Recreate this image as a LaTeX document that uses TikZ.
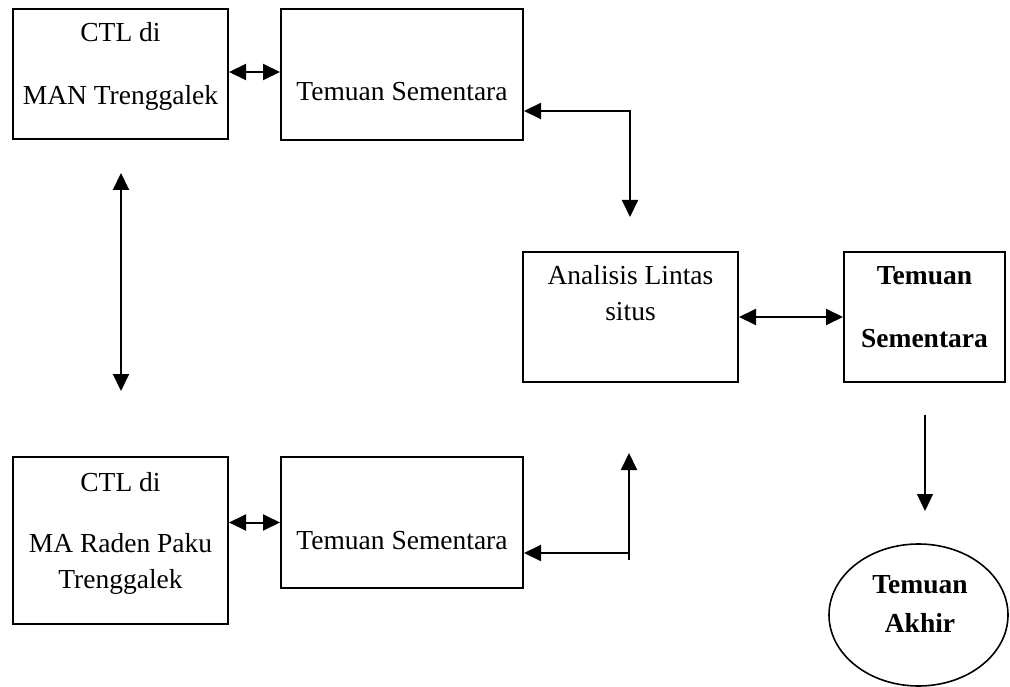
\documentclass[tikz,border=0pt]{standalone}
\usepackage{fontspec}
\setmainfont{Liberation Serif}
\usetikzlibrary{arrows.meta,shapes.geometric}
\begin{document}
\begin{tikzpicture}[x=1pt,y=-1pt,
  box/.style={draw,line width=2pt,inner sep=0pt},
  txt/.style={anchor=base,inner sep=0pt,font=\fontsize{27.5}{32}\selectfont},
  btxt/.style={anchor=base,inner sep=0pt,font=\fontsize{27.5}{32}\selectfont\bfseries},
  link/.style={line width=2pt,-{Triangle[length=17pt,width=16pt]}},
  dlink/.style={line width=2pt,{Triangle[length=17pt,width=16pt]}-{Triangle[length=17pt,width=16pt]}},
  thin link/.style={line width=1.2pt,-{Triangle[length=17pt,width=16pt]}}]
\useasboundingbox (0,0) rectangle (1010,687);
% boxes
\node[box,minimum width=215pt,minimum height=130pt] (A) at (120.5,74) {};
\node[box,minimum width=242pt,minimum height=131pt] (B) at (402,74.5) {};
\node[box,minimum width=215pt,minimum height=130pt] (C) at (630.5,317) {};
\node[box,minimum width=161pt,minimum height=130pt] (D) at (924.5,317) {};
\node[box,minimum width=215pt,minimum height=167pt] (E) at (120.5,540.5) {};
\node[box,minimum width=242pt,minimum height=131pt] (F) at (402,522.5) {};
\node[draw,ellipse,line width=1.6pt,inner sep=0pt,minimum width=179pt,minimum height=142pt] (G) at (918.5,615) {};
% texts
\node[txt] (A1) at (120.5,42) {CTL di};
\node[txt] (A2) at (120.5,105) {MAN Trenggalek};
\node[txt] (B1) at (402,101) {Temuan Sementara};
\node[txt] (C1) at (630.5,285) {Analisis Lintas};
\node[txt] (C2) at (630.5,320) {situs};
\node[btxt] (D1) at (924.5,285) {Temuan};
\node[btxt] (D2) at (924.5,347) {Sementara};
\node[txt] (E1) at (120.5,491) {CTL di};
\node[txt] (E2) at (120.5,552) {MA Raden Paku};
\node[txt] (E3) at (120.5,588) {Trenggalek};
\node[txt] (F1) at (402,549) {Temuan Sementara};
\node[btxt] (G1) at (920,593) {Temuan};
\node[btxt] (G2) at (920,632) {Akhir};
% free ends
\coordinate (p1) at (630,111);
\coordinate (p2) at (630,217);
\coordinate (v1) at (121,173);
\coordinate (v2) at (121,391);
\coordinate (u1) at (629,560);
\coordinate (u2) at (629,453);
\coordinate (h1) at (629,553);
\coordinate (d1) at (925,415);
\coordinate (d2) at (925,511);
% connectors
\draw[dlink] ([yshift=2pt]A.east) -- ([yshift=2pt]A.east -| B.west);
\draw[dlink] (B.east |- p1) -- (p1) -- (p2);
\draw[dlink] (v1) -- (v2);
\draw[dlink] (C.east) -- (D.west);
\draw[dlink] (E.east |- F.west) -- (F.west);
\draw[line width=2pt] (u1) -- (h1);
\draw[link] (h1) -- (h1 -| F.east);
\draw[link] (h1) -- (u2);
\draw[thin link] (d1) -- (d2);
\end{tikzpicture}
\end{document}
